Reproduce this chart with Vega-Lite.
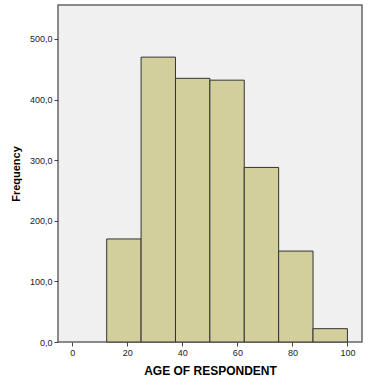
{
  "$schema": "https://vega.github.io/schema/vega-lite/v6.json",
  "autosize": "none",
  "width": 304,
  "height": 337,
  "padding": {"left": 58, "top": 5, "right": 7, "bottom": 47},
  "background": "white",
  "config": {
    "view": {"fill": "#f0f0f0", "stroke": "#666666", "strokeWidth": 1.5},
    "font": "Liberation Sans"
  },
  "data": {
    "values": [
      {"start": 12.5, "end": 25, "count": 170},
      {"start": 25, "end": 37.5, "count": 470},
      {"start": 37.5, "end": 50, "count": 435},
      {"start": 50, "end": 62.5, "count": 432},
      {"start": 62.5, "end": 75, "count": 288},
      {"start": 75, "end": 87.5, "count": 150},
      {"start": 87.5, "end": 100, "count": 22}
    ]
  },
  "mark": {"type": "rect", "fill": "#d3cf9c", "stroke": "#333333", "strokeWidth": 1},
  "encoding": {
    "x": {
      "field": "start", "type": "quantitative",
      "scale": {"domain": [-5.2, 105.3], "nice": false, "zero": false},
      "axis": {
        "values": [0, 20, 40, 60, 80, 100],
        "title": "AGE OF RESPONDENT",
        "titleFont": "Liberation Sans", "titleFontSize": 12, "titleFontWeight": "bold", "titleColor": "#000000",
        "titlePadding": 8,
        "labelFont": "Liberation Sans", "labelFontSize": 9, "labelColor": "#222222",
        "grid": false, "domain": false, "tickColor": "#444444", "tickSize": 4, "labelPadding": 2
      }
    },
    "x2": {"field": "end"},
    "y": {
      "field": "count", "type": "quantitative",
      "scale": {"domain": [0, 556], "nice": false},
      "axis": {
        "values": [0, 100, 200, 300, 400, 500],
        "labelExpr": "replace(format(datum.value, '.1f'), '.', ',')",
        "title": "Frequency",
        "titleFont": "Liberation Sans", "titleFontSize": 11, "titleFontWeight": "bold", "titleColor": "#000000",
        "titlePadding": 8,
        "labelFont": "Liberation Sans", "labelFontSize": 9, "labelColor": "#222222",
        "grid": false, "domain": false, "tickColor": "#444444", "tickSize": 4, "labelPadding": 2
      }
    },
    "y2": {"datum": 0}
  }
}
